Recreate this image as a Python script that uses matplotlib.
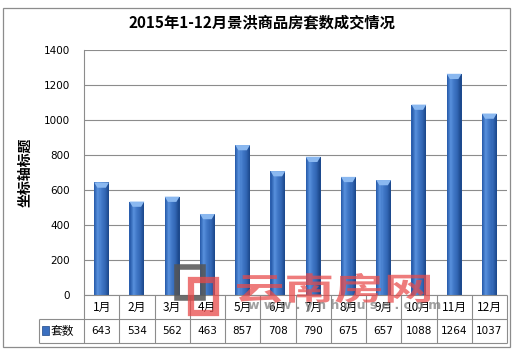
import numpy as np
import matplotlib

matplotlib.use("Agg")
import matplotlib.pyplot as plt
from matplotlib.colors import LinearSegmentedColormap
from matplotlib.font_manager import FontProperties
from matplotlib.patches import PathPatch, Polygon, Rectangle
from matplotlib.textpath import TextPath
from matplotlib.transforms import Affine2D

plt.rcParams["font.family"] = ["Noto Sans CJK SC", "DejaVu Sans"]

title = "2015年1-12月景洪商品房套数成交情况"
y_label = "坐标轴标题"
series_name = "套数"
months = ["1月", "2月", "3月", "4月", "5月", "6月", "7月", "8月", "9月", "10月", "11月", "12月"]
counts = [643, 534, 562, 463, 857, 708, 790, 675, 657, 1088, 1264, 1037]
y_ticks = [0, 200, 400, 600, 800, 1000, 1200, 1400]
watermark = "云南房网"
watermark_url = "w w w . y n h o u s e . c o m"

W, H = 527, 353
fig = plt.figure(figsize=(W / 100, H / 100), dpi=100)
fig.patch.set_facecolor("white")
lc = "#8c8c8c"


def fx(px):
    return px / W


def fy(py):
    return 1 - py / H


# chart frame
fig.add_artist(Rectangle((fx(3), fy(347)), fx(507), 339 / H, transform=fig.transFigure,
                         fill=False, edgecolor=lc, linewidth=0.9))

left, right, top, bottom = 84, 507, 50, 295
n = len(months)
x = np.arange(n)

ax = fig.add_axes([fx(left), fy(bottom), fx(right - left), (bottom - top) / H])
ax.set_xlim(-0.5, n - 0.5)
ax.set_ylim(0, 1400)
ax.set_yticks(y_ticks)
ax.set_yticklabels([str(t) for t in y_ticks], fontsize=7.5, family="DejaVu Sans")
ax.tick_params(axis="y", length=0, pad=10)
ax.set_xticks([])
ax.grid(axis="y", color=lc, linewidth=0.8)
ax.set_axisbelow(True)
for s in ["top", "right", "bottom"]:
    ax.spines[s].set_visible(False)
ax.spines["left"].set_color(lc)
ax.spines["left"].set_linewidth(0.8)

# cylinder look: each bar is split into thin shaded strips
cmap = LinearSegmentedColormap.from_list(
    "cyl", ["#2b5fae", "#5790dc", "#3f76c6", "#3266b4", "#1d4a8e"])
bw = 0.42
k = 14
offsets = (np.arange(k) + 0.5) / k * bw - bw / 2
for j, off in enumerate(offsets):
    ax.bar(x + off, counts, width=bw / k * 1.05, color=cmap(j / (k - 1)),
           linewidth=0, zorder=2)
for xi, v in zip(x, counts):
    ax.add_patch(Polygon([(xi - bw / 2, v), (xi + bw / 2, v), (xi + bw / 2 - 0.09, v - 30),
                          (xi - bw / 2 + 0.09, v - 30)], closed=True,
                         facecolor="#8ab8f0", edgecolor="none", zorder=3))
ax.set_xlim(-0.5, n - 0.5)
ax.set_ylim(0, 1400)

# data table below the plot
tab = fig.add_axes([fx(left), fy(343), fx(right - left), 48 / H])
tab.set_xlim(-0.5, n - 0.5)
tab.set_ylim(0, 2)
tab.axis("off")
cell = (right - left) / n
table_left = -0.5 - (left - 39) / cell
tab.hlines(2, -0.5, n - 0.5, color=lc, lw=0.8, clip_on=False)
tab.hlines([1, 0], table_left, n - 0.5, color=lc, lw=0.8, clip_on=False)
tab.vlines(table_left, 0, 1, color=lc, lw=0.8, clip_on=False)
tab.vlines(np.arange(n + 1) - 0.5, 0, 2, color=lc, lw=0.8, clip_on=False)
for xi, m, v in zip(x, months, counts):
    tab.text(xi, 1.5, m, ha="center", va="center", fontsize=8.5)
    tab.text(xi, 0.5, str(v), ha="center", va="center", fontsize=7.5, family="DejaVu Sans")
tab.add_patch(Rectangle((table_left + 0.08, 0.33), 0.2, 0.36, facecolor="#3a6fc0",
                        edgecolor="#1c4686", lw=0.5, clip_on=False))
tab.text(table_left + 0.33, 0.5, series_name, ha="left", va="center", fontsize=8.5)

fig.text(fx(262), fy(22), title, ha="center", va="center", fontsize=11, fontweight="bold")
fig.text(fx(25), fy(172), y_label, ha="center", va="center", rotation=90,
         fontsize=10, fontweight="bold")

# site watermark (logo boxes, name, url)
fig.add_artist(Rectangle((fx(177), fy(298)), fx(26), 31 / H, transform=fig.transFigure,
                         fill=False, edgecolor="#555555", lw=4, alpha=0.85))
fig.add_artist(Rectangle((fx(191), fy(313)), fx(25), 33 / H, transform=fig.transFigure,
                         fill=False, edgecolor="#e84a4a", lw=4.5, alpha=0.75))
tp = TextPath((0, 0), watermark, size=1,
              prop=FontProperties(family="Noto Sans CJK SC", weight="bold"))
ext = tp.get_extents()
wm_tr = (Affine2D().translate(-ext.x0, -ext.y0)
         .scale(193 / ext.width, 30 / ext.height)
         .translate(237, H - 303))
fig.add_artist(PathPatch(tp, transform=wm_tr, facecolor="#e84a4a", edgecolor="none",
                         alpha=0.72))
fig.text(fx(345), fy(306), watermark_url, ha="center", va="center", fontsize=9,
         color="#808080", alpha=0.75, fontweight="bold", family="DejaVu Sans")

fig.savefig("out.png", dpi=100)
